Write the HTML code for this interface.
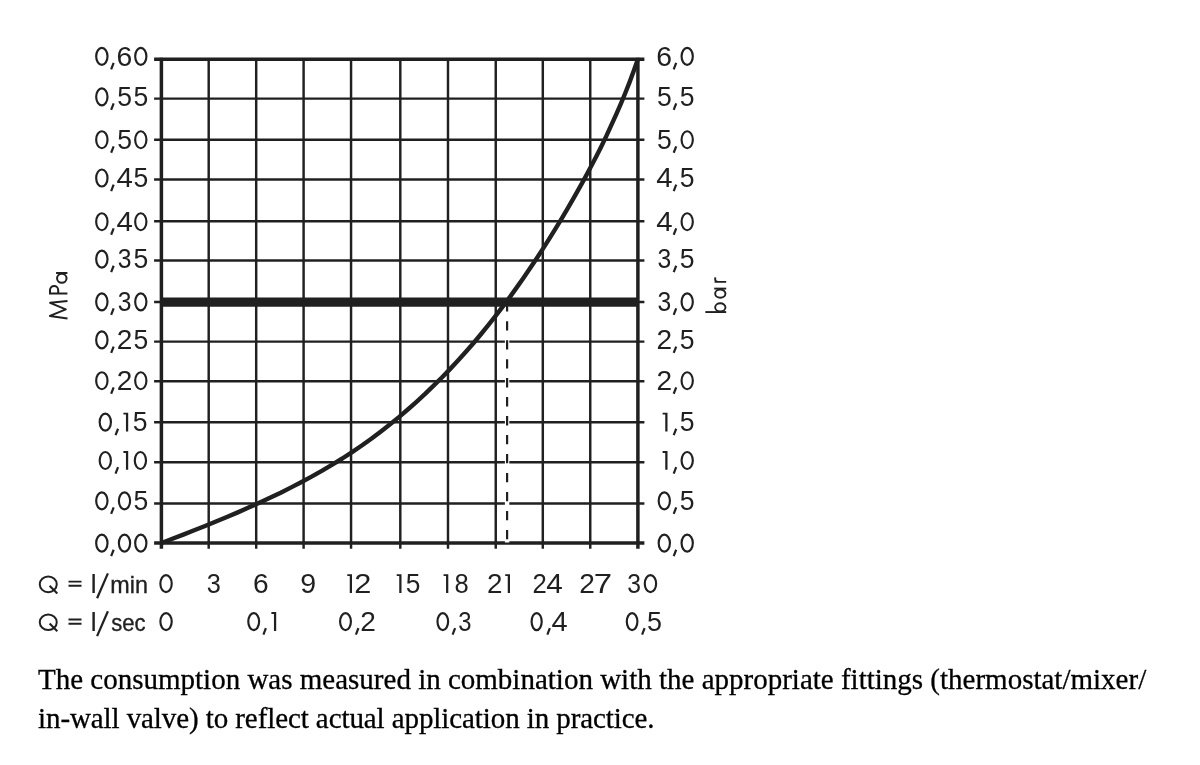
<!DOCTYPE html>
<html><head><meta charset="utf-8"><title>Flow diagram</title>
<style>
html,body{margin:0;padding:0;background:#fff;}
body{width:1200px;height:765px;overflow:hidden;position:relative;}
svg{position:absolute;left:0;top:0;}
svg,.cap{filter:grayscale(1);}
svg text{font-family:"Liberation Sans",sans-serif;font-size:27.4px;fill:#231f20;}
.cap{position:absolute;left:38px;top:660px;width:1150px;margin:0;font-family:"Liberation Serif",serif;font-size:29px;line-height:38.7px;color:#000;-webkit-text-stroke:0.3px #000;white-space:nowrap;}
.l2{letter-spacing:-0.09px;}
</style></head><body>
<svg width="1200" height="765" viewBox="0 0 1200 765">
<g stroke="#231f20" stroke-width="2.45" fill="none">
<line x1="208.70" y1="59.30" x2="208.70" y2="548.80"/>
<line x1="256.20" y1="59.30" x2="256.20" y2="548.80"/>
<line x1="303.60" y1="59.30" x2="303.60" y2="548.80"/>
<line x1="351.05" y1="59.30" x2="351.05" y2="548.80"/>
<line x1="400.30" y1="59.30" x2="400.30" y2="548.80"/>
<line x1="448.00" y1="59.30" x2="448.00" y2="548.80"/>
<line x1="495.75" y1="59.30" x2="495.75" y2="548.80"/>
<line x1="542.80" y1="59.30" x2="542.80" y2="548.80"/>
<line x1="590.25" y1="59.30" x2="590.25" y2="548.80"/>
<line x1="154.10" y1="98.60" x2="644.40" y2="98.60"/>
<line x1="154.10" y1="139.80" x2="644.40" y2="139.80"/>
<line x1="154.10" y1="179.40" x2="644.40" y2="179.40"/>
<line x1="154.10" y1="221.20" x2="644.40" y2="221.20"/>
<line x1="154.10" y1="260.50" x2="644.40" y2="260.50"/>
<line x1="154.10" y1="302.00" x2="644.40" y2="302.00"/>
<line x1="154.10" y1="341.60" x2="644.40" y2="341.60"/>
<line x1="154.10" y1="381.20" x2="644.40" y2="381.20"/>
<line x1="154.10" y1="422.30" x2="644.40" y2="422.30"/>
<line x1="154.10" y1="462.20" x2="644.40" y2="462.20"/>
<line x1="154.10" y1="503.50" x2="644.40" y2="503.50"/>
</g>
<g stroke="#231f20" stroke-width="3.5" fill="none">
<line x1="161.40" y1="57.80" x2="161.40" y2="548.80"/>
<line x1="637.90" y1="57.80" x2="637.90" y2="548.80"/>
<line x1="154.10" y1="59.30" x2="644.40" y2="59.30"/>
<line x1="154.10" y1="543.00" x2="644.40" y2="543.00"/>
</g>
<line x1="161.40" y1="302.10" x2="637.90" y2="302.10" stroke="#231f20" stroke-width="9.2"/>
<line x1="507.1" y1="306.7" x2="507.1" y2="542.4" stroke="#fff" stroke-width="4.4"/>
<line x1="507.1" y1="302.2" x2="507.1" y2="540.8" stroke="#231f20" stroke-width="2.2" stroke-dasharray="9.3 9.68" />
<path d="M161.5 543.0 L172.4 538.8 L183.3 534.6 L194.2 530.3 L205.1 526.0 L216.0 521.5 L226.9 517.0 L237.8 512.4 L248.6 507.6 L259.3 502.8 L270.0 497.8 L280.7 492.7 L291.2 487.4 L301.6 482.0 L312.0 476.4 L322.2 470.6 L332.3 464.6 L342.3 458.5 L352.1 452.1 L361.8 445.5 L371.3 438.7 L380.6 431.7 L389.8 424.5 L398.9 417.1 L407.8 409.5 L416.5 401.8 L425.1 393.9 L433.6 385.7 L441.9 377.5 L450.0 369.1 L458.0 360.5 L465.9 351.8 L473.6 343.0 L481.1 334.0 L488.5 324.9 L495.8 315.7 L502.9 306.3 L510.0 296.9 L516.8 287.4 L523.6 277.7 L530.2 268.0 L536.8 258.2 L543.2 248.4 L549.5 238.4 L555.7 228.4 L561.8 218.4 L567.7 208.3 L573.6 198.1 L579.4 187.9 L585.1 177.6 L590.6 167.3 L596.0 156.9 L601.3 146.4 L606.4 135.9 L611.3 125.2 L616.1 114.6 L620.8 103.8 L625.3 93.0 L629.6 82.1 L633.7 71.1 L637.6 60.0" fill="none" stroke="#231f20" stroke-width="4.4" stroke-linejoin="round" stroke-linecap="butt"/>
<ellipse cx="101.85" cy="56.33" rx="5.67" ry="8.50" fill="none" stroke="#231f20" stroke-width="2.15"/>
<line x1="113.65" y1="62.95" x2="111.15" y2="69.35" stroke="#231f20" stroke-width="2.2"/>
<text transform="translate(116.51,65.65) scale(1.036,1.000)" style="font-size:27.40px">6</text>
<ellipse cx="140.80" cy="56.33" rx="5.62" ry="8.50" fill="none" stroke="#231f20" stroke-width="2.15"/>
<ellipse cx="101.85" cy="96.83" rx="5.67" ry="8.50" fill="none" stroke="#231f20" stroke-width="2.15"/>
<line x1="113.65" y1="103.45" x2="111.15" y2="109.85" stroke="#231f20" stroke-width="2.2"/>
<text transform="translate(117.14,106.15) scale(0.970,1.000)" style="font-size:27.40px">5</text>
<text transform="translate(133.44,106.15) scale(0.970,1.000)" style="font-size:27.40px">5</text>
<ellipse cx="101.85" cy="139.73" rx="5.67" ry="8.50" fill="none" stroke="#231f20" stroke-width="2.15"/>
<line x1="113.65" y1="146.35" x2="111.15" y2="152.75" stroke="#231f20" stroke-width="2.2"/>
<text transform="translate(117.14,149.05) scale(0.970,1.000)" style="font-size:27.40px">5</text>
<ellipse cx="140.80" cy="139.73" rx="5.62" ry="8.50" fill="none" stroke="#231f20" stroke-width="2.15"/>
<ellipse cx="101.85" cy="178.02" rx="5.67" ry="8.50" fill="none" stroke="#231f20" stroke-width="2.15"/>
<line x1="113.65" y1="184.65" x2="111.15" y2="191.05" stroke="#231f20" stroke-width="2.2"/>
<text transform="translate(116.43,187.35) scale(1.072,1.000)" style="font-size:27.40px">4</text>
<text transform="translate(133.44,187.35) scale(0.970,1.000)" style="font-size:27.40px">5</text>
<ellipse cx="101.85" cy="221.73" rx="5.67" ry="8.50" fill="none" stroke="#231f20" stroke-width="2.15"/>
<line x1="113.65" y1="228.35" x2="111.15" y2="234.75" stroke="#231f20" stroke-width="2.2"/>
<text transform="translate(116.43,231.05) scale(1.072,1.000)" style="font-size:27.40px">4</text>
<ellipse cx="140.80" cy="221.73" rx="5.62" ry="8.50" fill="none" stroke="#231f20" stroke-width="2.15"/>
<ellipse cx="101.85" cy="259.12" rx="5.67" ry="8.50" fill="none" stroke="#231f20" stroke-width="2.15"/>
<line x1="113.65" y1="265.75" x2="111.15" y2="272.15" stroke="#231f20" stroke-width="2.2"/>
<text transform="translate(117.71,268.45) scale(0.901,1.000)" style="font-size:27.40px">3</text>
<text transform="translate(133.44,268.45) scale(0.970,1.000)" style="font-size:27.40px">5</text>
<ellipse cx="101.85" cy="301.82" rx="5.67" ry="8.50" fill="none" stroke="#231f20" stroke-width="2.15"/>
<line x1="113.65" y1="308.45" x2="111.15" y2="314.85" stroke="#231f20" stroke-width="2.2"/>
<text transform="translate(117.71,311.15) scale(0.901,1.000)" style="font-size:27.40px">3</text>
<ellipse cx="140.80" cy="301.82" rx="5.62" ry="8.50" fill="none" stroke="#231f20" stroke-width="2.15"/>
<ellipse cx="101.85" cy="339.92" rx="5.67" ry="8.50" fill="none" stroke="#231f20" stroke-width="2.15"/>
<line x1="113.65" y1="346.55" x2="111.15" y2="352.95" stroke="#231f20" stroke-width="2.2"/>
<text transform="translate(116.69,349.25) scale(1.025,1.000)" style="font-size:27.40px">2</text>
<text transform="translate(133.44,349.25) scale(0.970,1.000)" style="font-size:27.40px">5</text>
<ellipse cx="101.85" cy="380.73" rx="5.67" ry="8.50" fill="none" stroke="#231f20" stroke-width="2.15"/>
<line x1="113.65" y1="387.35" x2="111.15" y2="393.75" stroke="#231f20" stroke-width="2.2"/>
<text transform="translate(116.69,390.05) scale(1.025,1.000)" style="font-size:27.40px">2</text>
<ellipse cx="140.80" cy="380.73" rx="5.62" ry="8.50" fill="none" stroke="#231f20" stroke-width="2.15"/>
<ellipse cx="105.30" cy="422.12" rx="5.63" ry="8.50" fill="none" stroke="#231f20" stroke-width="2.15"/>
<line x1="118.05" y1="428.75" x2="115.55" y2="435.15" stroke="#231f20" stroke-width="2.2"/>
<path d="M123.40 412.65 H128.20 V431.45 H125.95 V414.55 H123.40 Z" fill="#231f20"/>
<text transform="translate(132.84,431.45) scale(0.970,1.000)" style="font-size:27.40px">5</text>
<ellipse cx="105.30" cy="460.52" rx="5.63" ry="8.50" fill="none" stroke="#231f20" stroke-width="2.15"/>
<line x1="118.05" y1="467.15" x2="115.55" y2="473.55" stroke="#231f20" stroke-width="2.2"/>
<path d="M123.40 451.05 H128.20 V469.85 H125.95 V452.95 H123.40 Z" fill="#231f20"/>
<ellipse cx="140.40" cy="460.52" rx="5.62" ry="8.50" fill="none" stroke="#231f20" stroke-width="2.15"/>
<ellipse cx="101.85" cy="500.82" rx="5.67" ry="8.50" fill="none" stroke="#231f20" stroke-width="2.15"/>
<line x1="113.65" y1="507.45" x2="111.15" y2="513.85" stroke="#231f20" stroke-width="2.2"/>
<ellipse cx="124.50" cy="500.82" rx="5.62" ry="8.50" fill="none" stroke="#231f20" stroke-width="2.15"/>
<text transform="translate(133.44,510.15) scale(0.970,1.000)" style="font-size:27.40px">5</text>
<ellipse cx="101.85" cy="543.12" rx="5.67" ry="8.50" fill="none" stroke="#231f20" stroke-width="2.15"/>
<line x1="113.65" y1="549.75" x2="111.15" y2="556.15" stroke="#231f20" stroke-width="2.2"/>
<ellipse cx="124.50" cy="543.12" rx="5.62" ry="8.50" fill="none" stroke="#231f20" stroke-width="2.15"/>
<ellipse cx="140.80" cy="543.12" rx="5.62" ry="8.50" fill="none" stroke="#231f20" stroke-width="2.15"/>
<text transform="translate(656.31,65.65) scale(1.036,1.000)" style="font-size:27.40px">6</text>
<line x1="676.20" y1="62.95" x2="673.70" y2="69.35" stroke="#231f20" stroke-width="2.2"/>
<ellipse cx="687.20" cy="56.33" rx="5.63" ry="8.50" fill="none" stroke="#231f20" stroke-width="2.15"/>
<text transform="translate(656.94,106.15) scale(0.970,1.000)" style="font-size:27.40px">5</text>
<line x1="676.20" y1="103.45" x2="673.70" y2="109.85" stroke="#231f20" stroke-width="2.2"/>
<text transform="translate(679.84,106.15) scale(0.970,1.000)" style="font-size:27.40px">5</text>
<text transform="translate(656.94,149.05) scale(0.970,1.000)" style="font-size:27.40px">5</text>
<line x1="676.20" y1="146.35" x2="673.70" y2="152.75" stroke="#231f20" stroke-width="2.2"/>
<ellipse cx="687.20" cy="139.73" rx="5.63" ry="8.50" fill="none" stroke="#231f20" stroke-width="2.15"/>
<text transform="translate(656.23,187.35) scale(1.072,1.000)" style="font-size:27.40px">4</text>
<line x1="676.20" y1="184.65" x2="673.70" y2="191.05" stroke="#231f20" stroke-width="2.2"/>
<text transform="translate(679.84,187.35) scale(0.970,1.000)" style="font-size:27.40px">5</text>
<text transform="translate(656.23,231.05) scale(1.072,1.000)" style="font-size:27.40px">4</text>
<line x1="676.20" y1="228.35" x2="673.70" y2="234.75" stroke="#231f20" stroke-width="2.2"/>
<ellipse cx="687.20" cy="221.73" rx="5.63" ry="8.50" fill="none" stroke="#231f20" stroke-width="2.15"/>
<text transform="translate(657.51,268.45) scale(0.901,1.000)" style="font-size:27.40px">3</text>
<line x1="676.20" y1="265.75" x2="673.70" y2="272.15" stroke="#231f20" stroke-width="2.2"/>
<text transform="translate(679.84,268.45) scale(0.970,1.000)" style="font-size:27.40px">5</text>
<text transform="translate(657.51,311.15) scale(0.901,1.000)" style="font-size:27.40px">3</text>
<line x1="676.20" y1="308.45" x2="673.70" y2="314.85" stroke="#231f20" stroke-width="2.2"/>
<ellipse cx="687.20" cy="301.82" rx="5.63" ry="8.50" fill="none" stroke="#231f20" stroke-width="2.15"/>
<text transform="translate(656.49,349.25) scale(1.025,1.000)" style="font-size:27.40px">2</text>
<line x1="676.20" y1="346.55" x2="673.70" y2="352.95" stroke="#231f20" stroke-width="2.2"/>
<text transform="translate(679.84,349.25) scale(0.970,1.000)" style="font-size:27.40px">5</text>
<text transform="translate(656.49,390.05) scale(1.025,1.000)" style="font-size:27.40px">2</text>
<line x1="676.20" y1="387.35" x2="673.70" y2="393.75" stroke="#231f20" stroke-width="2.2"/>
<ellipse cx="687.20" cy="380.73" rx="5.63" ry="8.50" fill="none" stroke="#231f20" stroke-width="2.15"/>
<path d="M662.60 412.65 H667.50 V431.45 H665.25 V414.55 H662.60 Z" fill="#231f20"/>
<line x1="676.20" y1="428.75" x2="673.70" y2="435.15" stroke="#231f20" stroke-width="2.2"/>
<text transform="translate(679.84,431.45) scale(0.970,1.000)" style="font-size:27.40px">5</text>
<path d="M662.60 451.05 H667.50 V469.85 H665.25 V452.95 H662.60 Z" fill="#231f20"/>
<line x1="676.20" y1="467.15" x2="673.70" y2="473.55" stroke="#231f20" stroke-width="2.2"/>
<ellipse cx="687.20" cy="460.52" rx="5.63" ry="8.50" fill="none" stroke="#231f20" stroke-width="2.15"/>
<ellipse cx="664.30" cy="500.82" rx="5.63" ry="8.50" fill="none" stroke="#231f20" stroke-width="2.15"/>
<line x1="676.20" y1="507.45" x2="673.70" y2="513.85" stroke="#231f20" stroke-width="2.2"/>
<text transform="translate(679.84,510.15) scale(0.970,1.000)" style="font-size:27.40px">5</text>
<ellipse cx="664.30" cy="543.12" rx="5.63" ry="8.50" fill="none" stroke="#231f20" stroke-width="2.15"/>
<line x1="676.20" y1="549.75" x2="673.70" y2="556.15" stroke="#231f20" stroke-width="2.2"/>
<ellipse cx="687.20" cy="543.12" rx="5.63" ry="8.50" fill="none" stroke="#231f20" stroke-width="2.15"/>
<ellipse cx="166.05" cy="583.67" rx="5.67" ry="8.50" fill="none" stroke="#231f20" stroke-width="2.15"/>
<text transform="translate(206.74,593.00) scale(0.924,1.000)" style="font-size:27.40px">3</text>
<text transform="translate(253.07,593.00) scale(1.028,1.000)" style="font-size:27.40px">6</text>
<text transform="translate(300.16,593.00) scale(1.043,1.000)" style="font-size:27.40px">9</text>
<path d="M347.30 574.20 H352.00 V593.00 H349.75 V576.10 H347.30 Z" fill="#231f20"/>
<text transform="translate(354.15,593.00) scale(1.122,1.000)" style="font-size:27.40px">2</text>
<path d="M396.70 574.20 H401.50 V593.00 H399.25 V576.10 H396.70 Z" fill="#231f20"/>
<text transform="translate(405.64,593.00) scale(0.962,1.000)" style="font-size:27.40px">5</text>
<path d="M443.60 574.20 H448.30 V593.00 H446.05 V576.10 H443.60 Z" fill="#231f20"/>
<text transform="translate(454.39,593.00) scale(0.933,1.000)" style="font-size:27.40px">8</text>
<text transform="translate(487.10,593.00) scale(1.017,1.000)" style="font-size:27.40px">2</text>
<path d="M505.20 574.20 H510.00 V593.00 H507.75 V576.10 H505.20 Z" fill="#231f20"/>
<text transform="translate(532.51,593.00) scale(0.937,1.000)" style="font-size:27.40px">2</text>
<text transform="translate(546.32,593.00) scale(1.086,1.000)" style="font-size:27.40px">4</text>
<text transform="translate(579.29,593.00) scale(1.025,1.000)" style="font-size:27.40px">2</text>
<text transform="translate(593.69,593.00) scale(1.200,1.000)" style="font-size:27.40px">7</text>
<text transform="translate(627.36,593.00) scale(0.901,1.000)" style="font-size:27.40px">3</text>
<ellipse cx="650.45" cy="583.67" rx="5.67" ry="8.50" fill="none" stroke="#231f20" stroke-width="2.15"/>
<ellipse cx="166.05" cy="621.58" rx="5.67" ry="8.50" fill="none" stroke="#231f20" stroke-width="2.15"/>
<ellipse cx="253.70" cy="621.58" rx="5.42" ry="8.50" fill="none" stroke="#231f20" stroke-width="2.15"/>
<line x1="265.90" y1="628.20" x2="263.40" y2="634.60" stroke="#231f20" stroke-width="2.2"/>
<path d="M271.40 612.10 H276.20 V630.90 H273.95 V614.00 H271.40 Z" fill="#231f20"/>
<ellipse cx="345.50" cy="621.58" rx="5.42" ry="8.50" fill="none" stroke="#231f20" stroke-width="2.15"/>
<line x1="358.40" y1="628.20" x2="355.90" y2="634.60" stroke="#231f20" stroke-width="2.2"/>
<text transform="translate(360.29,630.90) scale(1.025,1.000)" style="font-size:27.40px">2</text>
<ellipse cx="442.80" cy="621.58" rx="5.33" ry="8.50" fill="none" stroke="#231f20" stroke-width="2.15"/>
<line x1="455.10" y1="628.20" x2="452.60" y2="634.60" stroke="#231f20" stroke-width="2.2"/>
<text transform="translate(458.29,630.90) scale(0.870,1.000)" style="font-size:27.40px">3</text>
<ellipse cx="536.65" cy="621.58" rx="5.07" ry="8.50" fill="none" stroke="#231f20" stroke-width="2.15"/>
<line x1="549.85" y1="628.20" x2="547.35" y2="634.60" stroke="#231f20" stroke-width="2.2"/>
<text transform="translate(551.54,630.90) scale(1.057,1.000)" style="font-size:27.40px">4</text>
<ellipse cx="632.10" cy="621.58" rx="5.32" ry="8.50" fill="none" stroke="#231f20" stroke-width="2.15"/>
<line x1="644.60" y1="628.20" x2="642.10" y2="634.60" stroke="#231f20" stroke-width="2.2"/>
<text transform="translate(647.12,630.90) scale(0.985,1.000)" style="font-size:27.40px">5</text>
<ellipse cx="48.25" cy="584.35" rx="8.5" ry="7.8" fill="none" stroke="#231f20" stroke-width="2.0"/>
<line x1="49.6" y1="585.70" x2="57.3" y2="593.40" stroke="#231f20" stroke-width="2.1"/>
<path d="M68.5 581.60 H81.5 M68.5 585.80 H81.5" stroke="#231f20" stroke-width="1.9" fill="none"/>
<text transform="translate(90.38,593.00) scale(1.050,1.000)" style="font-size:26.70px">l</text>
<line x1="97.1" y1="598.20" x2="107.9" y2="573.40" stroke="#231f20" stroke-width="2.2"/>
<text transform="translate(110.35,593.00) scale(1.016,1)" style="font-size:23.00px" stroke="#231f20" stroke-width="0.35">min</text>
<ellipse cx="48.25" cy="622.25" rx="8.5" ry="7.8" fill="none" stroke="#231f20" stroke-width="2.0"/>
<line x1="49.6" y1="623.60" x2="57.3" y2="631.30" stroke="#231f20" stroke-width="2.1"/>
<path d="M68.5 619.50 H81.5 M68.5 623.70 H81.5" stroke="#231f20" stroke-width="1.9" fill="none"/>
<text transform="translate(90.38,630.90) scale(1.050,1.000)" style="font-size:26.70px">l</text>
<line x1="97.1" y1="636.10" x2="107.9" y2="611.30" stroke="#231f20" stroke-width="2.2"/>
<text transform="translate(111.29,630.90) scale(0.958,1)" style="font-size:23.00px" stroke="#231f20" stroke-width="0.35">sec</text>
<g transform="translate(67.4,319.3) rotate(-90)" fill="none" stroke="#231f20" stroke-width="2" stroke-linejoin="miter" stroke-miterlimit="10">
<path d="M0.9 0.1 L3.4 -17.5 L10.0 -1.6 L16.5 -17.3 L18.4 0.1" stroke-linejoin="round"/>
<path d="M25.9 0 V-18.4 M25.9 -17.4 H29.3 A4.1 4.1 0 0 1 29.3 -9.2 H25.9"/>
<ellipse cx="41.0" cy="-5.6" rx="4.5" ry="4.75"/>
<path d="M46.3 0 V-11.3"/>
</g>
<g transform="translate(726.2,313.0) rotate(-90)" fill="none" stroke="#231f20" stroke-width="1.9">
<path d="M0.95 0 V-20.85"/>
<ellipse cx="5.65" cy="-5.9" rx="4.15" ry="5.15"/>
<ellipse cx="19.4" cy="-5.9" rx="4.15" ry="5.15"/>
<path d="M24.4 0 V-12"/>
<path d="M31.1 0 V-11.6 M31.1 -8 C31.2 -10.6 32.6 -11.4 35.7 -10.9"/>
</g>
</svg>
<p class="cap">The consumption was measured in combination with the appropriate fittings (thermostat/mixer/<br><span class="l2">in-wall valve) to reflect actual application in practice.</span></p>
</body></html>
